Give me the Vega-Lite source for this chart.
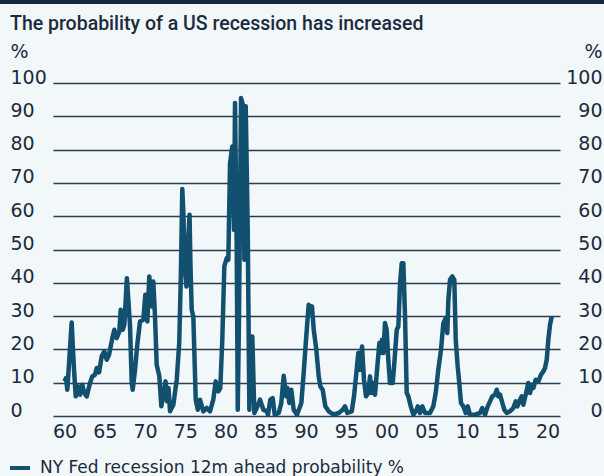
{
 "$schema": "https://vega.github.io/schema/vega-lite/v6.json",
 "width": 507,
 "height": 333,
 "autosize": {"type": "none"},
 "padding": {"left": 53, "top": 83, "right": 44, "bottom": 60},
 "background": "#f2f7fa",
 "config": {"view": {"stroke": null}, "font": "DejaVu Sans"},
 "title": {"text": "The probability of a US recession has increased", "anchor": "start", "frame": "group", "dx": -43, "dy": 48, "fontSize": 19.5, "font": "Roboto", "fontWeight": 500, "color": "#1a2b3d", "offset": 8},
 "data": {"values": [
  {"year":1960.0,"p":10.4},{"year":1960.19,"p":11.4},{"year":1960.35,"p":7.9},{"year":1960.62,"p":18},{"year":1960.89,"p":28.1},{"year":1961.05,"p":20},{"year":1961.18,"p":13.9},{"year":1961.39,"p":5.9},{"year":1961.71,"p":8.9},{"year":1961.93,"p":6.4},{"year":1962.21,"p":9.4},{"year":1962.46,"p":6.9},{"year":1962.76,"p":5.9},{"year":1963.17,"p":9.9},{"year":1963.45,"p":11.9},{"year":1963.79,"p":12.4},{"year":1964.0,"p":14.4},{"year":1964.29,"p":13.1},{"year":1964.62,"p":17.9},{"year":1964.94,"p":19.4},{"year":1965.24,"p":16.9},{"year":1965.53,"p":18.4},{"year":1965.94,"p":23.4},{"year":1966.19,"p":25.9},{"year":1966.48,"p":23.4},{"year":1966.81,"p":25.4},{"year":1966.98,"p":31.9},{"year":1967.23,"p":25.9},{"year":1967.43,"p":27.4},{"year":1967.75,"p":41.4},{"year":1967.93,"p":34.9},{"year":1968.14,"p":26.9},{"year":1968.35,"p":9.9},{"year":1968.47,"p":7.9},{"year":1968.76,"p":13.9},{"year":1969.04,"p":21.4},{"year":1969.38,"p":28.4},{"year":1969.79,"p":28.9},{"year":1970.04,"p":36.4},{"year":1970.29,"p":28.4},{"year":1970.53,"p":41.9},{"year":1970.83,"p":32.9},{"year":1971.03,"p":40.4},{"year":1971.24,"p":29.9},{"year":1971.45,"p":15.4},{"year":1971.78,"p":11.9},{"year":1972.03,"p":2.9},{"year":1972.3,"p":6.9},{"year":1972.55,"p":10.4},{"year":1972.73,"p":4.4},{"year":1972.92,"p":8.4},{"year":1973.11,"p":1.4},{"year":1973.52,"p":3.4},{"year":1973.94,"p":10.9},{"year":1974.25,"p":21.9},{"year":1974.45,"p":42},{"year":1974.63,"p":68.2},{"year":1974.78,"p":60},{"year":1974.91,"p":45},{"year":1975.15,"p":38.9},{"year":1975.34,"p":52},{"year":1975.53,"p":60.4},{"year":1975.65,"p":45},{"year":1975.8,"p":31.9},{"year":1976.0,"p":29.9},{"year":1976.3,"p":4.9},{"year":1976.55,"p":1.9},{"year":1976.83,"p":4.9},{"year":1977.24,"p":1.4},{"year":1977.66,"p":2.4},{"year":1978.07,"p":1.4},{"year":1978.48,"p":4.9},{"year":1978.78,"p":10.4},{"year":1979.11,"p":7.4},{"year":1979.35,"p":8.4},{"year":1979.6,"p":22.9},{"year":1979.85,"p":44.9},{"year":1980.15,"p":47.4},{"year":1980.35,"p":46.9},{"year":1980.56,"p":75.9},{"year":1980.84,"p":80.9},{"year":1981.06,"p":55.9},{"year":1981.18,"p":94},{"year":1981.39,"p":50.9},{"year":1981.52,"p":1.9},{"year":1981.68,"p":30.9},{"year":1981.93,"p":95.5},{"year":1982.21,"p":93},{"year":1982.34,"p":46.9},{"year":1982.51,"p":93},{"year":1982.76,"p":55.9},{"year":1982.96,"p":1.9},{"year":1983.17,"p":23.9},{"year":1983.33,"p":23.9},{"year":1983.58,"p":0.9},{"year":1983.88,"p":2.4},{"year":1984.29,"p":4.9},{"year":1984.7,"p":1.9},{"year":1985.12,"p":1.4},{"year":1985.28,"p":0.4},{"year":1985.57,"p":4.9},{"year":1985.86,"p":5.4},{"year":1986.11,"p":0.4},{"year":1986.61,"p":0.9},{"year":1986.93,"p":3.9},{"year":1987.23,"p":12.1},{"year":1987.52,"p":5.9},{"year":1987.68,"p":8.4},{"year":1987.93,"p":3.9},{"year":1988.17,"p":7.9},{"year":1988.47,"p":1.9},{"year":1988.88,"p":0.4},{"year":1989.42,"p":3.9},{"year":1989.71,"p":12.9},{"year":1990.0,"p":22.9},{"year":1990.33,"p":33.4},{"year":1990.53,"p":31.9},{"year":1990.74,"p":32.9},{"year":1990.96,"p":25.9},{"year":1991.28,"p":19.9},{"year":1991.58,"p":11.9},{"year":1991.78,"p":8.9},{"year":1992.07,"p":7.9},{"year":1992.4,"p":2.9},{"year":1992.82,"p":1.4},{"year":1993.44,"p":0.4},{"year":1994.06,"p":0.9},{"year":1994.56,"p":1.9},{"year":1994.84,"p":2.9},{"year":1995.13,"p":0.9},{"year":1995.68,"p":1.4},{"year":1995.96,"p":5.9},{"year":1996.21,"p":11.9},{"year":1996.5,"p":18.9},{"year":1996.71,"p":13.9},{"year":1996.96,"p":20.9},{"year":1997.2,"p":10.9},{"year":1997.45,"p":5.9},{"year":1997.74,"p":6.9},{"year":1997.95,"p":11.9},{"year":1998.16,"p":6.9},{"year":1998.36,"p":9.9},{"year":1998.57,"p":6.4},{"year":1998.86,"p":14.9},{"year":1999.11,"p":21.9},{"year":1999.28,"p":18.9},{"year":1999.44,"p":22.9},{"year":1999.6,"p":18.9},{"year":1999.81,"p":27.9},{"year":2000.02,"p":25.9},{"year":2000.22,"p":16.9},{"year":2000.43,"p":9.9},{"year":2000.77,"p":9.9},{"year":2000.97,"p":15.9},{"year":2001.27,"p":25.9},{"year":2001.47,"p":26.9},{"year":2001.68,"p":39.9},{"year":2001.89,"p":45.9},{"year":2002.09,"p":45.9},{"year":2002.3,"p":29.9},{"year":2002.51,"p":6.9},{"year":2002.71,"p":5.9},{"year":2003.01,"p":2.9},{"year":2003.33,"p":0.4},{"year":2003.75,"p":1.9},{"year":2003.88,"p":2.9},{"year":2004.16,"p":0.9},{"year":2004.45,"p":2.9},{"year":2004.78,"p":0.9},{"year":2005.4,"p":0.9},{"year":2005.81,"p":2.9},{"year":2006.11,"p":6.9},{"year":2006.43,"p":13.9},{"year":2006.77,"p":19.9},{"year":2007.06,"p":27.9},{"year":2007.35,"p":29.4},{"year":2007.55,"p":24.9},{"year":2007.68,"p":34.9},{"year":2007.89,"p":40.9},{"year":2008.17,"p":41.9},{"year":2008.42,"p":40.9},{"year":2008.6,"p":22.9},{"year":2008.84,"p":14.9},{"year":2009.04,"p":9.9},{"year":2009.25,"p":3.9},{"year":2009.54,"p":2.9},{"year":2009.84,"p":0.9},{"year":2010.09,"p":2.9},{"year":2010.37,"p":0.4},{"year":2010.99,"p":0.4},{"year":2011.61,"p":0.9},{"year":2011.9,"p":2.4},{"year":2012.24,"p":0.4},{"year":2012.57,"p":2.9},{"year":2012.86,"p":4.4},{"year":2013.14,"p":5.9},{"year":2013.48,"p":6.4},{"year":2013.69,"p":7.9},{"year":2013.89,"p":5.9},{"year":2014.1,"p":6.4},{"year":2014.39,"p":3.9},{"year":2014.63,"p":1.9},{"year":2014.93,"p":0.9},{"year":2015.34,"p":1.4},{"year":2015.75,"p":2.4},{"year":2016.05,"p":4.4},{"year":2016.25,"p":2.9},{"year":2016.5,"p":4.4},{"year":2016.8,"p":5.9},{"year":2016.99,"p":3.4},{"year":2017.29,"p":6.4},{"year":2017.61,"p":9.9},{"year":2017.83,"p":6.9},{"year":2018.04,"p":9.4},{"year":2018.24,"p":8.4},{"year":2018.53,"p":10.9},{"year":2018.86,"p":10.4},{"year":2019.19,"p":12.4},{"year":2019.48,"p":13.4},{"year":2019.69,"p":14.4},{"year":2019.9,"p":16.9},{"year":2020.1,"p":22.9},{"year":2020.31,"p":27.4},{"year":2020.52,"p":29.9}
 ]},
 "layer": [
  {
   "mark": {"type": "line", "strokeWidth": 4.5, "strokeJoin": "round", "clip": false},
   "encoding": {
    "x": {"field": "year", "type": "quantitative",
      "scale": {"domain": [1958.57, 2021.55], "nice": false, "zero": false},
      "axis": {"values": [1960,1965,1970,1975,1980,1985,1990,1995,2000,2005,2010,2015,2020], "format": "d", "labelExpr": "substring(datum.label, 2, 4)", "title": null, "grid": false, "ticks": false, "domain": false, "labelFontSize": 19, "labelColor": "#1a2b3d", "labelPadding": 6, "labelFont": "DejaVu Sans", "labelFlush": false, "labelOverlap": false}},
    "y": {"field": "p", "type": "quantitative",
      "scale": {"domain": [0, 100], "nice": false, "zero": true},
      "axis": {"values": [0,10,20,30,40,50,60,70,80,90,100], "title": "%", "titleAngle": 0, "titleAlign": "left", "titleBaseline": "alphabetic", "titleX": -43, "titleY": -26, "titleFontSize": 19, "titleFontWeight": "normal", "titleColor": "#1a2b3d", "titleFont": "DejaVu Sans", "grid": true, "gridColor": "#2a3c50", "gridWidth": 1.6, "ticks": false, "domain": false, "labelAlign": "left", "labelBaseline": "alphabetic", "labelPadding": 43, "labelFontSize": 19, "labelColor": "#1a2b3d", "labelFont": "DejaVu Sans", "labelFlush": false, "labelOverlap": false}},
    "color": {"datum": "NY Fed recession 12m ahead probability %", "type": "nominal",
      "scale": {"range": ["#12506f"]},
      "legend": {"orient": "none", "legendX": -45, "legendY": 373, "title": null, "symbolType": "stroke", "symbolStrokeWidth": 4, "symbolSize": 400, "labelFontSize": 17, "labelFont": "DejaVu Sans", "labelColor": "#1a2b3d", "labelOffset": 8, "labelLimit": 0, "padding": 0}}
   }
  },
  {
   "data": {"values": [{"band": "top"}]},
   "mark": {"type": "rect", "color": "#14283f", "clip": false},
   "encoding": {
    "x": {"datum": 1940, "type": "quantitative"},
    "x2": {"datum": 2040},
    "y": {"datum": 123.7, "type": "quantitative",
      "scale": {"domain": [0, 100], "nice": false, "zero": true},
      "axis": {"orient": "right", "values": [0,10,20,30,40,50,60,70,80,90,100], "title": "%", "titleAngle": 0, "titleAlign": "right", "titleBaseline": "alphabetic", "titleX": 42, "titleY": -26, "titleFontSize": 19, "titleFontWeight": "normal", "titleColor": "#1a2b3d", "titleFont": "DejaVu Sans", "grid": false, "ticks": false, "domain": false, "labelAlign": "right", "labelBaseline": "alphabetic", "labelPadding": 42, "labelFontSize": 19, "labelColor": "#1a2b3d", "labelFont": "DejaVu Sans", "labelFlush": false, "labelOverlap": false}},
    "y2": {"datum": 126.5}
   }
  }
 ],
 "resolve": {"scale": {"y": "independent"}}
}
